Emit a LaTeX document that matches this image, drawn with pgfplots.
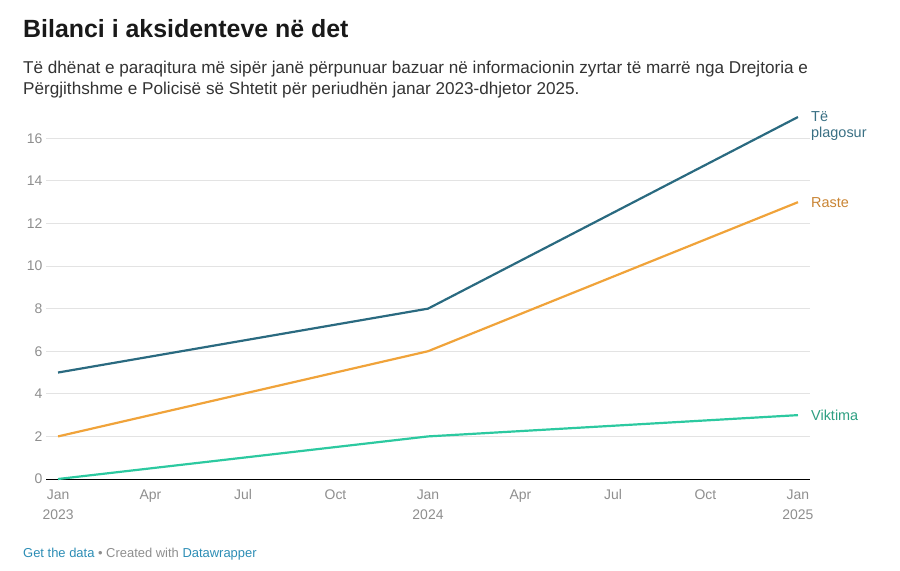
\documentclass[border=0pt]{standalone}
\usepackage{fontspec}
\setmainfont{Liberation Sans}
\usepackage{pgfplots}
\pgfplotsset{compat=1.18}
\definecolor{cblue}{HTML}{2A6A80}
\definecolor{corange}{HTML}{F0A33A}
\definecolor{cgreen}{HTML}{2CC9A0}
\definecolor{tblue}{HTML}{3A7084}
\definecolor{torange}{HTML}{C98433}
\definecolor{tgreen}{HTML}{2E9F82}
\definecolor{ticks}{HTML}{8E8E8E}
\definecolor{linkblue}{HTML}{2C8DB5}
\begin{document}
\begin{tikzpicture}
\path[use as bounding box] (0bp,0bp) rectangle (900bp,-571bp);
\node[anchor=base west, inner sep=0, font=\fontsize{25}{29}\selectfont\bfseries, text=black!90] at (23bp,-37bp) {Bilanci i aksidenteve në det};
\node[anchor=base west, inner sep=0, font=\fontsize{17.2}{21}\selectfont, text=black!80] at (23bp,-73bp) {Të dhënat e paraqitura më sipër janë përpunuar bazuar në informacionin zyrtar të marrë nga Drejtoria e};
\node[anchor=base west, inner sep=0, font=\fontsize{17.2}{21}\selectfont, text=black!80] at (23bp,-94bp) {Përgjithshme e Policisë së Shtetit për periudhën janar 2023-dhjetor 2025.};
\node[anchor=base west, inner sep=0, font=\fontsize{13}{15}\selectfont, text=ticks] at (23bp,-557bp) {\textcolor{linkblue}{Get the data} • Created with \textcolor{linkblue}{Datawrapper}};
\begin{axis}[
  at={(46bp,-479bp)}, anchor=south west,
  scale only axis, width=764bp, height=362bp,
  xmin=-0.39, xmax=24.39, ymin=0, ymax=17,
  clip=false,
  axis line style={draw=none},
  tick style={draw=none}, major tick length=0,
  ymajorgrids, grid style={draw=black!11, line width=0.8bp},
  ytick={2,4,...,16},
  extra y ticks={0},
  extra y tick style={grid style={draw=black, line width=0.9bp}},
  xtick={0,3,...,24},
  xticklabels={{Jan\\2023},Apr,Jul,Oct,{Jan\\2024},Apr,Jul,Oct,{Jan\\2025}},
  xticklabel style={align=center, anchor=north, font=\fontsize{14}{20}\selectfont, text=ticks, yshift=-7bp},
  yticklabel style={font=\fontsize{14}{16}\selectfont, text=ticks, xshift=0bp},
  /pgf/number format/assume math mode=true,
]
\addplot[cblue, line width=2.2bp] coordinates {(0,5) (12,8) (24,17)};
\addplot[corange, line width=2.2bp] coordinates {(0,2) (12,6) (24,13)};
\addplot[cgreen, line width=2.2bp] coordinates {(0,0) (12,2) (24,3)};
\node[anchor=west, inner sep=0, font=\fontsize{14.5}{16}\selectfont, text=tblue] at (axis cs:24,17) [xshift=13bp] {Të};
\node[anchor=west, inner sep=0, font=\fontsize{14.5}{16}\selectfont, text=tblue] at (axis cs:24,17) [xshift=13bp, yshift=-17bp] {plagosur};
\node[anchor=west, inner sep=0, font=\fontsize{14.5}{16}\selectfont, text=torange] at (axis cs:24,13) [xshift=13bp] {Raste};
\node[anchor=west, inner sep=0, font=\fontsize{14.5}{16}\selectfont, text=tgreen] at (axis cs:24,3) [xshift=13bp] {Viktima};
\end{axis}
\end{tikzpicture}
\end{document}
